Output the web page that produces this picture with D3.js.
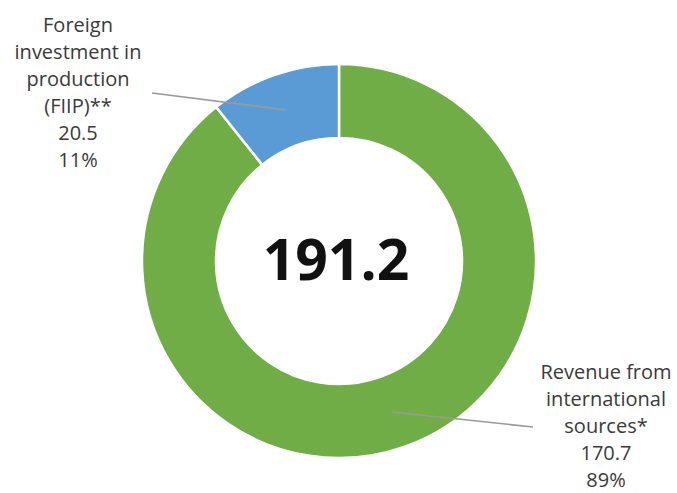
<!DOCTYPE html>
<html>
<head>
<meta charset="utf-8">
<script src="https://cdn.jsdelivr.net/npm/d3@7"></script>
<style>
  html, body { margin: 0; padding: 0; background: #fff; }
  svg { display: block; }
</style>
</head>
<body>
<svg id="chart" width="677" height="493"></svg>
<script>
// Funding sources
const categories = ["Revenue from international sources*", "Foreign investment in production (FIIP)**"];
const values = [170.7, 20.5];
const percents = ["89%", "11%"];
const labelLines = [
  ["Revenue from", "international", "sources*"],
  ["Foreign", "investment in", "production", "(FIIP)**"]
];
const colors = ["#70ad47", "#5b9bd5"];
const total = 191.2;

const svg = d3.select("#chart");
const cx = 339, cy = 261;
const outerR = 197, innerR = 123;

const pie = d3.pie().sort(null).value(d => d);
const arcs = pie(values);
const arc = d3.arc().innerRadius(innerR).outerRadius(outerR);

const g = svg.append("g").attr("transform", `translate(${cx},${cy})`);

g.selectAll("path.slice")
  .data(arcs)
  .join("path")
  .attr("class", "slice")
  .attr("d", arc)
  .attr("fill", (d, i) => colors[i])
  .attr("stroke", "#fff")
  .attr("stroke-width", 2.5);

// Leader lines run from each slice centroid out to its label
const labelAnchors = [
  { line: [533, 427], x: 606, y: 379 },
  { line: [152, 93], x: 78, y: 32 }
];

arcs.forEach((d, i) => {
  const c = arc.centroid(d);
  svg.append("line")
    .attr("x1", cx + c[0]).attr("y1", cy + c[1])
    .attr("x2", labelAnchors[i].line[0]).attr("y2", labelAnchors[i].line[1])
    .attr("stroke", "#9a9a9a")
    .attr("stroke-width", 1.6);
});

// Slice labels: name, value, share
const lineH = 27;
arcs.forEach((d, i) => {
  const lines = labelLines[i].concat([d3.format(".1f")(values[i]), percents[i]]);
  const t = svg.append("text")
    .attr("text-anchor", "middle")
    .attr("font-family", "'Open Sans', sans-serif")
    .attr("font-size", 20)
    .attr("fill", "#3a3a3a");
  lines.forEach((s, k) => {
    t.append("tspan")
      .attr("x", labelAnchors[i].x)
      .attr("y", labelAnchors[i].y + k * lineH)
      .text(s);
  });
});

// Total in the hole
g.append("text")
  .attr("x", -3)
  .attr("y", 19)
  .attr("text-anchor", "middle")
  .attr("font-family", "'Open Sans', sans-serif")
  .attr("font-weight", 700)
  .attr("font-size", 57)
  .attr("fill", "#111")
  .text(d3.format(".1f")(total));
</script>
</body>
</html>
